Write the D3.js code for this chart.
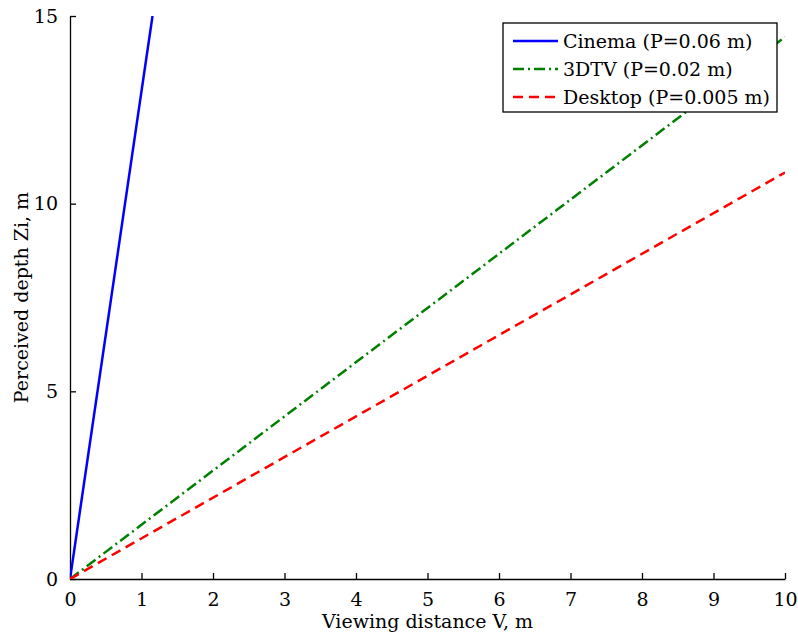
<!DOCTYPE html>
<html>
<head>
<meta charset="utf-8">
<script src="https://cdn.jsdelivr.net/npm/d3@7"></script>
<style>
  body { margin: 0; background: #fff; }
  svg text { font-family: "DejaVu Serif", "Liberation Serif", serif; fill: #000; }
  .axis path, .axis line { stroke: #000; stroke-width: 1.3; }
  .axis text { font-size: 19px; }
</style>
</head>
<body>
<div class="content"></div>
<script>
// series values [V, Zi]
const seriesNames = ["Cinema (P=0.06 m)", "3DTV (P=0.02 m)", "Desktop (P=0.005 m)"];
const cinemaPoints = [[0, 0], [1.154, 15]];
const tvPoints = [[0, 0], [10, 14.44]];
const desktopPoints = [[0, 0], [10, 10.83]];
const xTicks = [0, 1, 2, 3, 4, 5, 6, 7, 8, 9, 10];
const yTicks = [0, 5, 10, 15];

const series = [
  { name: seriesNames[0], values: cinemaPoints, color: "#0000ff", dash: null },
  { name: seriesNames[1], values: tvPoints, color: "#008000", dash: "11,4,2,4" },
  { name: seriesNames[2], values: desktopPoints, color: "#ff0000", dash: "10,6" },
];

const margin = { top: 16, right: 13, bottom: 57, left: 70 };
const width = 798 - margin.left - margin.right;
const height = 636 - margin.top - margin.bottom;

const xScale = d3.scaleLinear().domain([0, 10]).range([0, width]);
const yScale = d3.scaleLinear().domain([0, 15]).range([height, 0]);

const svg = d3
  .select(".content")
  .append("svg")
  .attr("width", 798)
  .attr("height", 636);

const g = svg
  .append("g")
  .attr("transform", `translate(${margin.left}, ${margin.top})`);

g.append("clipPath")
  .attr("id", "plot-clip")
  .append("rect")
  .attr("width", width)
  .attr("height", height);

//--> X axis
g.append("g")
  .attr("class", "axis")
  .attr("transform", `translate(0, ${height})`)
  .call(d3.axisBottom(xScale).tickValues(xTicks).tickSizeInner(-6).tickSizeOuter(0).tickPadding(14))
  .call(s => s.selectAll("text").attr("dy", "0.71em"));

//--> Y axis
g.append("g")
  .attr("class", "axis")
  .call(d3.axisLeft(yScale).tickValues(yTicks).tickSizeInner(-6).tickSizeOuter(0).tickPadding(12));

//--> lines
const line = d3
  .line()
  .x(d => xScale(d[0]))
  .y(d => yScale(d[1]));

g.append("g")
  .attr("clip-path", "url(#plot-clip)")
  .selectAll("path")
  .data(series)
  .enter()
  .append("path")
  .attr("d", d => line(d.values))
  .attr("fill", "none")
  .attr("stroke", d => d.color)
  .attr("stroke-width", 2.5)
  .attr("stroke-dasharray", d => d.dash);

//--> axis labels
g.append("text")
  .attr("x", width / 2)
  .attr("y", height + 49)
  .attr("text-anchor", "middle")
  .style("font-size", "19px")
  .text("Viewing distance V, m");

g.append("text")
  .attr("transform", "rotate(-90)")
  .attr("x", -height / 2)
  .attr("y", -42)
  .attr("text-anchor", "middle")
  .style("font-size", "19px")
  .text("Perceived depth Zi, m");

//--> legend
const legend = svg.append("g").attr("transform", "translate(503, 23)");

legend
  .append("rect")
  .attr("width", 274)
  .attr("height", 89)
  .attr("fill", "#fff")
  .attr("stroke", "#000")
  .attr("stroke-width", 1.3);

const rows = legend
  .selectAll("g.row")
  .data(series)
  .enter()
  .append("g")
  .attr("class", "row")
  .attr("transform", (d, i) => `translate(0, ${18 + i * 28})`);

rows
  .append("line")
  .attr("x1", 10)
  .attr("x2", 55)
  .attr("stroke", d => d.color)
  .attr("stroke-width", 2.5)
  .attr("stroke-dasharray", d => d.dash);

rows
  .append("text")
  .attr("x", 60)
  .attr("dy", "0.35em")
  .style("font-size", "19px")
  .text(d => d.name);
</script>
</body>
</html>
